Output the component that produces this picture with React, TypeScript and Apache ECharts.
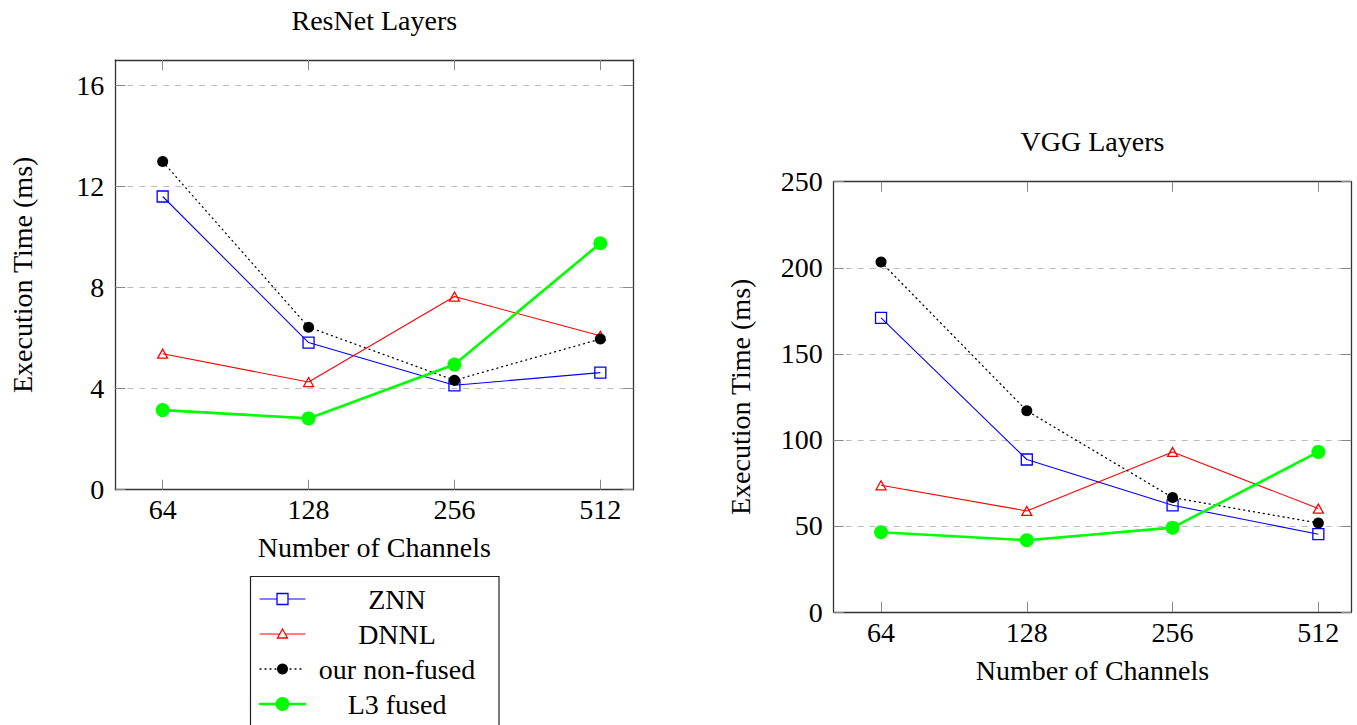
import React, { useEffect, useRef } from "react";
import * as echarts from "echarts";

const FONT = "Liberation Serif, Times New Roman, serif";
const FS = 28;

// Categories (x axis)
const channels = ["64", "128", "256", "512"];

// ResNet Layers (ms)
const resnetZNN = [11.6, 5.82, 4.13, 4.63];
const resnetDNNL = [5.38, 4.26, 7.64, 6.09];
const resnetNonFused = [12.98, 6.43, 4.33, 5.96];
const resnetL3 = [3.15, 2.82, 4.95, 9.75];
const resnetYTicks = [0, 4, 8, 12, 16];

// VGG Layers (ms)
const vggZNN = [170.9, 88.6, 62.0, 45.2];
const vggDNNL = [73.6, 58.7, 93.0, 60.1];
const vggNonFused = [203.3, 116.9, 66.5, 51.7];
const vggL3 = [46.3, 41.7, 49.0, 93.0];
const vggYTicks = [0, 50, 100, 150, 200, 250];

const seriesNames = ["ZNN", "DNNL", "our non-fused", "L3 fused"];

const BLUE = "#0000ff";
const RED = "#ff0000";
const BLACK = "#000000";
const GREEN = "#00ff00";

const xIdx = channels.map((_, i) => i);

function xAxes(gridIndex: number) {
  const common = {
    type: "value",
    gridIndex,
    min: -0.3247,
    max: 3.226,
    splitLine: { show: false },
    axisLine: { show: true, onZero: false, lineStyle: { color: "#333", width: 1.3 } },
    axisTick: {
      show: true,
      inside: true,
      length: 10,
      customValues: xIdx,
      lineStyle: { color: "#888", width: 1 },
    },
  };
  return [
    {
      ...common,
      position: "bottom",
      name: "Number of Channels",
      nameLocation: "middle",
      nameGap: 44,
      nameTextStyle: { fontSize: FS, color: "#000", fontFamily: FONT },
      axisLabel: {
        customValues: xIdx,
        formatter: (v: number) => channels[Math.round(v)] ?? "",
        fontSize: FS,
        color: "#000",
        fontFamily: FONT,
        margin: 6,
      },
    },
    {
      ...common,
      position: "top",
      axisLabel: { show: false },
    },
  ];
}

function yAxes(gridIndex: number, max: number, ticks: number[], interval: number) {
  const common = {
    type: "value",
    gridIndex,
    min: 0,
    max,
    interval,
    axisLine: { show: true, onZero: false, lineStyle: { color: "#333", width: 1.3 } },
    axisTick: {
      show: true,
      inside: true,
      length: 10,
      customValues: ticks,
      lineStyle: { color: "#888", width: 1 },
    },
  };
  return [
    {
      ...common,
      position: "left",
      name: "Execution Time (ms)",
      nameLocation: "middle",
      nameGap: 79,
      nameTextStyle: { fontSize: FS, color: "#000", fontFamily: FONT },
      axisLabel: {
        customValues: ticks,
        fontSize: FS,
        color: "#000",
        fontFamily: FONT,
        margin: 11,
      },
      splitLine: {
        show: true,
        lineStyle: { color: "#bbb", width: 1, type: [6, 6] },
      },
    },
    {
      ...common,
      position: "right",
      axisLabel: { show: false },
      splitLine: { show: false },
    },
  ];
}

function seriesFor(axisOffset: number, znn: number[], dnnl: number[], nonFused: number[], l3: number[]) {
  const toData = (vals: number[]) => xIdx.map((i) => [i, vals[i]]);
  const base = {
    type: "line",
    xAxisIndex: axisOffset,
    yAxisIndex: axisOffset,
    showSymbol: true,
    silent: true,
  };
  return [
    {
      ...base,
      name: seriesNames[0],
      data: toData(znn),
      symbol: "rect",
      symbolSize: 11,
      lineStyle: { color: BLUE, width: 1.1 },
      itemStyle: { color: "rgba(255,255,255,0)", borderColor: BLUE, borderWidth: 1.3 },
    },
    {
      ...base,
      name: seriesNames[1],
      data: toData(dnnl),
      symbol: "triangle",
      symbolSize: [10, 9],
      lineStyle: { color: RED, width: 1.1 },
      itemStyle: { color: "rgba(255,255,255,0)", borderColor: RED, borderWidth: 1.3 },
    },
    {
      ...base,
      name: seriesNames[2],
      data: toData(nonFused),
      symbol: "circle",
      symbolSize: 11,
      lineStyle: { color: BLACK, width: 1.3, type: [1, 4], cap: "round" },
      itemStyle: { color: BLACK },
    },
    {
      ...base,
      name: seriesNames[3],
      data: toData(l3),
      symbol: "circle",
      symbolSize: 14,
      lineStyle: { color: GREEN, width: 2.6 },
      itemStyle: { color: GREEN },
    },
  ];
}

function legendGraphic() {
  const left = 250.5;
  const top = 576.5;
  const rows = [599, 634, 669, 704];
  const lx1 = 260;
  const lx2 = 305;
  const mx = 282.5;
  const tx = 397;
  const els: any[] = [
    {
      type: "rect",
      shape: { x: left, y: top, width: 248.5, height: 175 },
      style: { fill: "#fff", stroke: "#222", lineWidth: 1.2 },
      z: 10,
    },
  ];
  const styles = [
    { color: BLUE, width: 1.1, dash: null as any },
    { color: RED, width: 1.1, dash: null as any },
    { color: BLACK, width: 1.3, dash: [1, 4] },
    { color: GREEN, width: 2.6, dash: null as any },
  ];
  rows.forEach((cy, i) => {
    const s = styles[i];
    els.push({
      type: "line",
      shape: { x1: lx1, y1: cy, x2: lx2, y2: cy },
      style: { stroke: s.color, lineWidth: s.width, lineDash: s.dash, lineCap: "round" },
      z: 11,
    });
    if (i === 0) {
      els.push({
        type: "rect",
        shape: { x: mx - 5.5, y: cy - 5.5, width: 11, height: 11 },
        style: { fill: "#fff", stroke: BLUE, lineWidth: 1.3 },
        z: 12,
      });
    } else if (i === 1) {
      els.push({
        type: "polygon",
        shape: { points: [[mx, cy - 5], [mx - 5, cy + 4], [mx + 5, cy + 4]] },
        style: { fill: "#fff", stroke: RED, lineWidth: 1.3 },
        z: 12,
      });
    } else if (i === 2) {
      els.push({
        type: "circle",
        shape: { cx: mx, cy, r: 5.5 },
        style: { fill: BLACK },
        z: 12,
      });
    } else {
      els.push({
        type: "circle",
        shape: { cx: mx, cy, r: 7 },
        style: { fill: GREEN },
        z: 12,
      });
    }
    els.push({
      type: "text",
      x: tx,
      y: cy,
      style: {
        text: seriesNames[i],
        fill: "#000",
        font: `${FS}px ${FONT}`,
        align: "center",
        verticalAlign: "middle",
      },
      z: 12,
    });
  });
  return els;
}

function titleGraphic(text: string, x: number, y: number) {
  return {
    type: "text",
    x,
    y,
    style: {
      text,
      fill: "#000",
      font: `${FS}px ${FONT}`,
      align: "center",
      verticalAlign: "middle",
    },
  };
}

export default function App() {
  const ref = useRef<HTMLDivElement>(null);
  useEffect(() => {
    if (!ref.current) return;
    const chart = echarts.init(ref.current, null, { renderer: "svg" });
    const option: any = {
      animation: false,
      backgroundColor: "#fff",
      textStyle: { fontFamily: FONT },
      grid: [
        { left: 115.3, top: 60, width: 518, height: 429.7, containLabel: false },
        { left: 833.7, top: 181.7, width: 517.6, height: 430.3, containLabel: false },
      ],
      xAxis: [...xAxes(0), ...xAxes(1)],
      yAxis: [
        ...yAxes(0, 17, resnetYTicks, 4),
        ...yAxes(1, 250, vggYTicks, 50),
      ],
      series: [
        ...seriesFor(0, resnetZNN, resnetDNNL, resnetNonFused, resnetL3),
        ...seriesFor(2, vggZNN, vggDNNL, vggNonFused, vggL3),
      ],
      graphic: [
        titleGraphic("ResNet Layers", 374.3, 20),
        titleGraphic("VGG Layers", 1092.5, 141),
        ...legendGraphic(),
      ],
    };
    chart.setOption(option);
    return () => chart.dispose();
  }, []);
  return (
    <div
      ref={ref}
      style={{ position: "absolute", left: 0, top: 0, width: 1357, height: 725, background: "#fff" }}
    />
  );
}
